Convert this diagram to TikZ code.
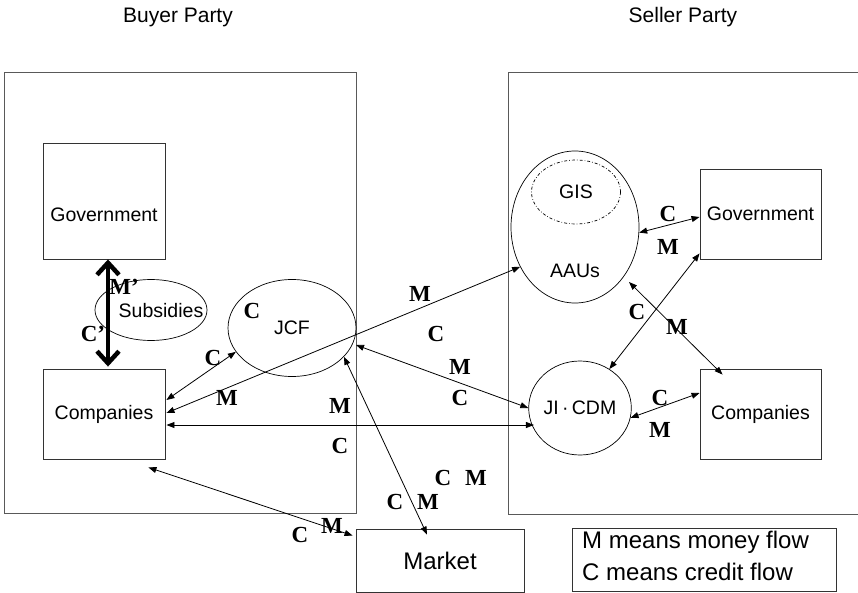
\documentclass[tikz,border=0pt]{standalone}
\usepackage{fontspec}
\setmainfont{Liberation Sans}
\newfontfamily\lblfont{Liberation Serif}
\usetikzlibrary{arrows.meta,calc,shapes.geometric}
\begin{document}
\begin{tikzpicture}[x=1pt,y=-1pt,
  every node/.style={font=\fontsize{19.5}{23}\selectfont},
  box/.style={draw=black!80, line width=0.9pt, rectangle, inner sep=0pt},
  region/.style={draw=black!65, line width=1pt},
  oval/.style={draw, ellipse, line width=0.7pt, inner sep=0pt},
  lbl/.style={font=\lblfont\bfseries\fontsize{23}{26}\selectfont, inner sep=0pt},
  flow/.style={line width=0.8pt, {Triangle[length=8pt,width=6pt]}-{Triangle[length=8pt,width=6pt]}},
  heavy/.style={line width=4.5pt, {Straight Barb[length=12pt,width=22pt]}-{Straight Barb[length=12pt,width=22pt]}},
]
\useasboundingbox (0,0) rectangle (858,593);

% titles
\node[font=\fontsize{21}{25}\selectfont] (buyertitle) at (178,17) {Buyer Party};
\node[font=\fontsize{21}{25}\selectfont] (sellertitle) at (683,17) {Seller Party};

% party regions
\node[region, minimum width=352pt, minimum height=440pt, inner sep=0pt] (buyer) at (180,293) {};
\draw[region] (858,73) -- (508,73) -- (508,514) -- (858,514);

% buyer side
\node[box, minimum width=122pt, minimum height=116pt] (govL) at (104,201) {};
\node (govLtext) at (104,215) {Government};
\node[box, minimum width=122pt, minimum height=90pt] (compL) at (104,414) {Companies};
\node[oval, minimum width=112pt, minimum height=61pt] (subs) at (151,310) {};
\node (substext) at (161,311) {Subsidies};
\node[oval, minimum width=128pt, minimum height=97pt] (jcf) at (292,328) {JCF};

% seller side
\node[oval, minimum width=128pt, minimum height=152pt] (aaus) at (575,227) {};
\node[oval, dash dot, minimum width=89pt, minimum height=64pt] (gis) at (576,192) {GIS};
\node (aaustext) at (575,271) {AAUs};
\node[oval, minimum width=80pt, minimum height=94pt] (jicdm) at (580,408) {JI\thinspace·\thinspace CDM};
\node[box, minimum width=121pt, minimum height=90pt] (govR) at (760.5,214) {Government};
\node[box, minimum width=121pt, minimum height=90pt] (compR) at (760.5,414) {Companies};

% market and legend
\node[box, minimum width=168pt, minimum height=63pt, font=\fontsize{24}{28}\selectfont] (market) at (440,560.5) {Market};
\node[box, minimum width=264pt, minimum height=63pt] (legend) at (704,559.5) {};
\node[anchor=west, align=left, inner sep=0pt, font=\fontsize{24}{32}\selectfont] (legendtext) at (582,556) {M means money flow\\C means credit flow};

% connectors
\draw[heavy] ($(govL.south)+(4,0)$) -- ($(compL.north)+(4,-2)$);
\draw[flow] ($(compL.east)+(1,-14)$) -- (jcf.203);
\draw[flow] ($(compL.east)+(1,-1)$) -- (aaus.216);
\coordinate (hl) at ($(compL.east)+(1,11)$);
\draw[flow] (hl) -- (hl -| jicdm.205);
\draw[flow] ($(jcf)+(64,17)$) -- (jicdm.west);
\draw[flow] (jcf.-29) -- ($(market.north)+(-13,6)$);
\draw[flow] ($(compL.south east)+(-17,8)$) -- ($(market.north west)+(-3,7)$);
\draw[flow] (aaus.-5) -- ($(govR.west)+(0,3)$);
\draw[flow] (jicdm.53) -- ($(govR.south west)+(0,-6)$);
\draw[flow] ($(aaus)+(54,55)$) -- ($(compR.north west)+(23,6)$);
\draw[flow] (jicdm.-11) -- ($(compR.west)+(0,-21)$);

% labels
\node[lbl] (l1) at (124,287) {M’};
\node[lbl] (l2) at (93,334) {C’};
\node[lbl] (l3) at (252,311) {C};
\node[lbl] (l4) at (213,358) {C};
\node[lbl] (l5) at (227,398) {M};
\node[lbl] (l6) at (420,294) {M};
\node[lbl] (l7) at (436,334) {C};
\node[lbl] (l8) at (460,367) {M};
\node[lbl] (l9) at (460,398) {C};
\node[lbl] (l10) at (340,406) {M};
\node[lbl] (l11) at (340,446) {C};
\node[lbl] (l12) at (443,478) {C};
\node[lbl] (l13) at (476,478) {M};
\node[lbl] (l14) at (395,502) {C};
\node[lbl] (l15) at (428,502) {M};
\node[lbl] (l16) at (300,535) {C};
\node[lbl] (l17) at (332,526) {M};
\node[lbl] (l18) at (668,214) {C};
\node[lbl] (l19) at (668,247) {M};
\node[lbl] (l20) at (637,312) {C};
\node[lbl] (l21) at (677,327) {M};
\node[lbl] (l22) at (660,398) {C};
\node[lbl] (l23) at (660,430) {M};
\end{tikzpicture}
\end{document}
